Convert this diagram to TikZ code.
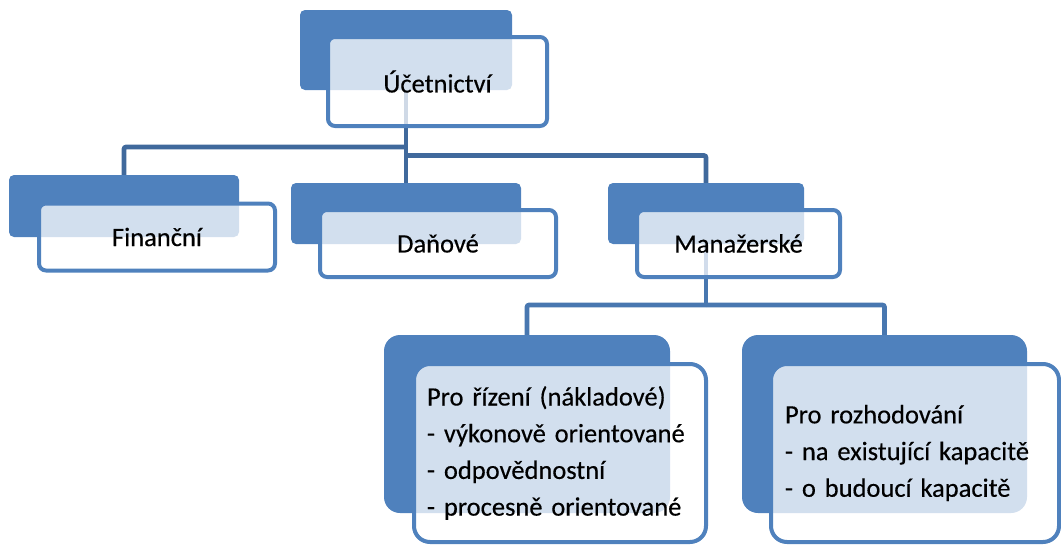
\documentclass[tikz,border=0pt]{standalone}
\usepackage{fontspec}
\setmainfont{Carlito}[FakeBold=0.35]
\definecolor{accent}{HTML}{4F81BD}
\definecolor{linkdark}{HTML}{40699C}
\definecolor{linkmid}{HTML}{4877B0}
\pgfdeclarelayer{links}
\pgfsetlayers{links,main}
\begin{document}
\begin{tikzpicture}[x=1pt,y=-1pt,
  back/.style={fill=accent, draw=none, rounded corners=5pt,
    inner sep=0pt, outer sep=0pt},
  bigback/.style={back, rounded corners=16pt},
  front/.style={fill=white, fill opacity=0.75, text opacity=1,
    draw=accent, draw opacity=1, line width=4pt, rounded corners=7pt,
    inner sep=0pt, outer sep=0pt, text=black,
    font=\fontsize{26.5}{36.7}\selectfont},
  bigfront/.style={front, rounded corners=16pt, align=left},
  conn/.style={draw=linkdark, line width=4.6pt, rounded corners=2pt},
  conn2/.style={draw=linkmid, line width=4.6pt, rounded corners=2pt}
]
\useasboundingbox (0,0) rectangle (1061,546);

% root
\node[back, minimum width=212pt, minimum height=80pt] (ucB) at (406,50) {};
\node[front, minimum width=219pt, minimum height=89pt] (uc) at (437.5,81.5) {Účetnictví};

% first level
\node[back, minimum width=230pt, minimum height=62pt] (finB) at (124,206) {};
\node[front, minimum width=236pt, minimum height=67pt] (fin) at (157,237) {Finanční};

\node[back, minimum width=230pt, minimum height=61pt] (danB) at (406,213.5) {};
\node[front, minimum width=236pt, minimum height=67pt] (dan) at (438,243.5) {Daňové};

\node[back, minimum width=196pt, minimum height=61pt] (manB) at (706,213.5) {};
\node[front, minimum width=203pt, minimum height=67pt] (man) at (738.5,243.5) {Manažerské};

% second level
\node[bigback, minimum width=286pt, minimum height=178pt] (rizB) at (527,424) {};
\node[bigfront, minimum width=292pt, minimum height=178pt,
  inner xsep=13pt, text width=266pt] (riz) at (560,453)
  {Pro řízení (nákladové)\\- výkonově orientované\\- odpovědnostní\\- procesně orientované};

\node[bigback, minimum width=285pt, minimum height=178pt] (rozB) at (884.5,424) {};
\node[bigfront, minimum width=288pt, minimum height=178pt,
  inner xsep=14pt, text width=260pt] (roz) at (915,453)
  {Pro rozhodování\\- na existující kapacitě\\- o budoucí kapacitě};

% connectors, behind the boxes
\begin{pgfonlayer}{links}
  \coordinate (j1) at (ucB.center |- 0,147);
  \coordinate (j2) at (ucB.center |- 0,155.5);
  \coordinate (j3) at (manB.center |- 0,305);
  \draw[conn] (ucB.center) -- (danB.north);
  \draw[conn] (j1) -| (finB.north);
  \draw[conn] (j2) -| (manB.north);
  \draw[conn2] (manB.center) -- (j3);
  \draw[conn2] (j3) -| (rizB.north);
  \draw[conn2] (j3) -| (rozB.north);
\end{pgfonlayer}
\end{tikzpicture}
\end{document}
